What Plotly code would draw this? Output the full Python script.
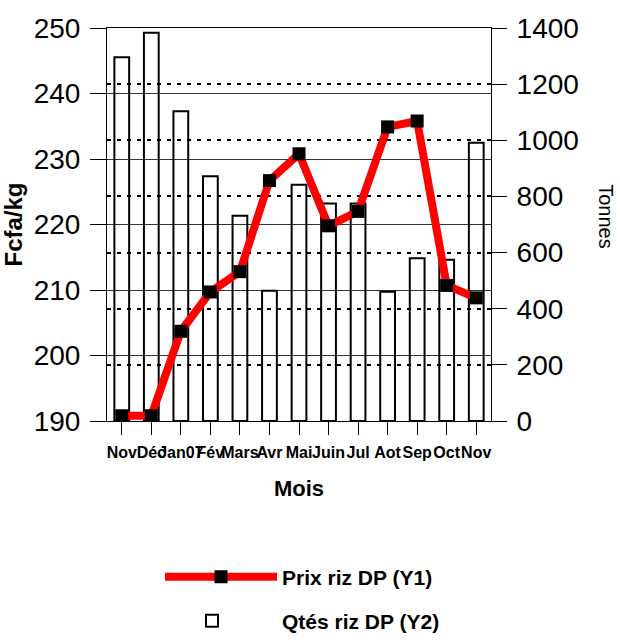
import plotly.graph_objects as go

months = ["Nov", "Déc", "Jan07", "Fév", "Mars", "Avr", "Mai", "Juin", "Jul", "Aot", "Sep", "Oct", "Nov"]
prix = [190.8, 190.8, 203.7, 209.7, 212.8, 226.7, 230.8, 219.8, 222.0, 234.9, 235.8, 210.7, 208.8]
qtes = [1296, 1383, 1103, 872, 731, 464, 842, 775, 775, 460, 580, 574, 991]
positions = list(range(len(months)))
grid_positions = positions[1::2]

SANS = "Liberation Sans, Arial, sans-serif"

fig = go.Figure()
fig.add_trace(go.Bar(
    x=positions, y=qtes, name="Qtés riz DP (Y2)", yaxis="y", width=0.5,
    marker=dict(color="rgba(255,255,255,0)", line=dict(color="black", width=2)),
    legend="legend2",
))
fig.add_trace(go.Scatter(
    x=positions, y=prix, name="Prix riz DP (Y1)", yaxis="y2", mode="lines+markers",
    line=dict(color="#ff0000", width=8),
    marker=dict(color="black", size=13, symbol="square"),
    legend="legend",
))

fig.update_layout(
    width=620, height=640,
    margin=dict(l=107, r=129, t=28, b=219),
    paper_bgcolor="white", plot_bgcolor="white",
    showlegend=True,
    xaxis=dict(
        automargin=False,
        range=[-0.5, 12.5], tickvals=positions, ticktext=months, tickangle=0,
        showgrid=False, zeroline=False, showline=True, linecolor="black", linewidth=1,
        mirror=True, ticks="outside", ticklen=13, tickcolor="black", ticklabelstandoff=4,
        tickfont=dict(family=SANS, size=16, color="black", weight="bold"),
        title=dict(text="Mois", font=dict(family=SANS, size=22, color="black", weight="bold"), standoff=20),
    ),
    xaxis2=dict(
        automargin=False,
        overlaying="x", anchor="y", range=[-0.5, 12.5], tickvals=grid_positions,
        showticklabels=False, ticks="", showgrid=True, gridcolor="#666666", gridwidth=1,
        zeroline=False, showline=False,
    ),
    yaxis=dict(
        automargin=False,
        side="right", range=[0, 1400], dtick=200, tick0=0,
        showgrid=True, gridcolor="black", gridwidth=1.5, griddash="4px,6px",
        zeroline=False, showline=True, linecolor="black", linewidth=1,
        ticks="outside", ticklen=15, tickcolor="black", ticklabelstandoff=4,
        tickfont=dict(family=SANS, size=28, color="black"),
    ),
    yaxis2=dict(
        automargin=False,
        side="left", overlaying="y", range=[190, 250], dtick=10, tick0=190,
        showgrid=True, gridcolor="#333333", gridwidth=1,
        zeroline=False, showline=True, linecolor="black", linewidth=1,
        ticks="outside", ticklen=16, tickcolor="black", ticklabelstandoff=4,
        tickfont=dict(family=SANS, size=28, color="black"),
        title=dict(text="Fcfa/kg", font=dict(family=SANS, size=24, color="black", weight="bold"), standoff=6),
    ),
    legend=dict(
        xref="paper", yref="container",
        x=(160 - 107) / 384, y=(640 - 577) / 640, xanchor="left", yanchor="middle", bgcolor="rgba(0,0,0,0)",
        font=dict(family=SANS, size=21, color="black", weight="bold"), itemwidth=112,
    ),
    legend2=dict(
        xref="paper", yref="container",
        x=(142 - 107) / 384, y=(640 - 621) / 640, xanchor="left", yanchor="middle", bgcolor="rgba(0,0,0,0)",
        font=dict(family=SANS, size=21, color="black", weight="bold"), itemwidth=130,
    ),
    annotations=[dict(
        text="Tonnes", xref="paper", yref="paper", x=1.299, y=0.519,
        xanchor="center", yanchor="middle", textangle=90, showarrow=False,
        font=dict(family=SANS, size=20, color="black"),
    )],
)

fig.write_html("out.html", config={"displayModeBar": False},
               post_script="document.body.style.margin='0';")
